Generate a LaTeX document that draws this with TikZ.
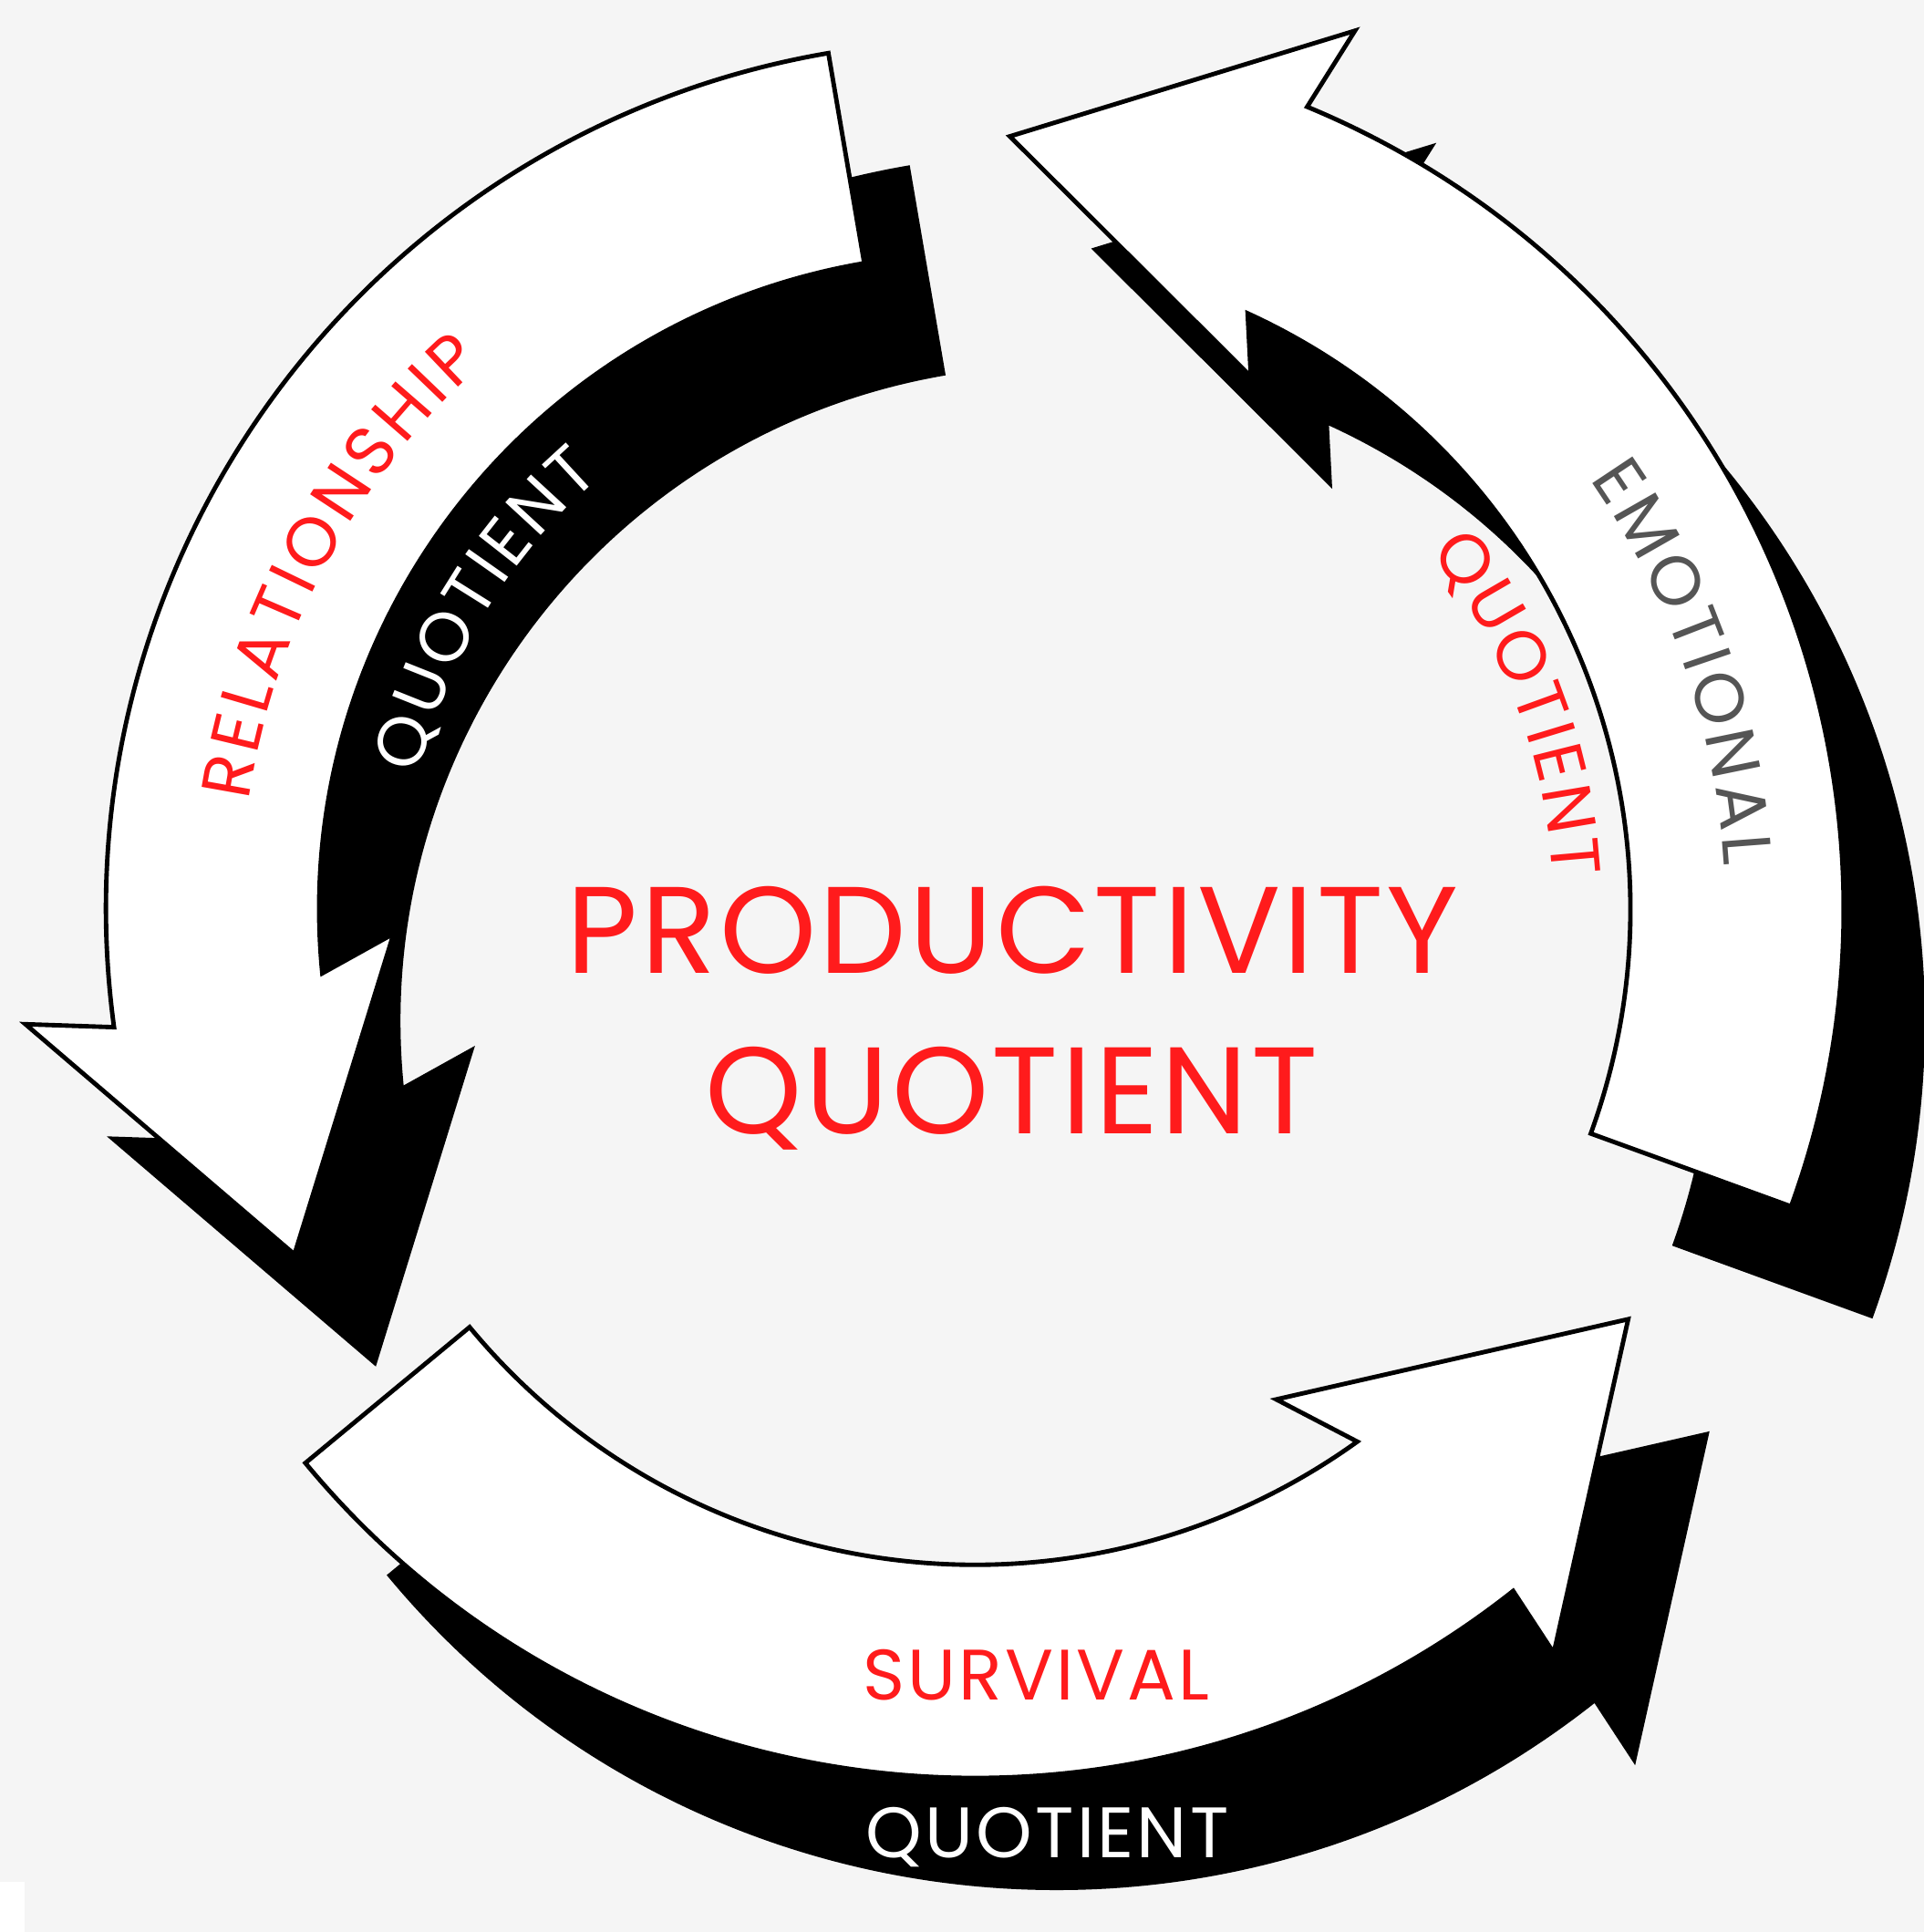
\documentclass[tikz,border=0pt]{standalone}
\usepackage{fontspec}
\setmainfont{Poppins}
\newfontfamily\spacedface{Poppins}[LetterSpace=4]
\newfontfamily\titleface{Poppins}[LetterSpace=2.5]
\usetikzlibrary{decorations.text}

\definecolor{pqred}{HTML}{FF1B1C}
\definecolor{pqgray}{HTML}{555555}
\definecolor{pqback}{HTML}{F5F5F5}

\newcommand{\bigfont}{\titleface\fontsize{50}{50}\selectfont}
\newcommand{\smallfont}{\spacedface\fontsize{29}{29}\selectfont}
\newcommand{\arcfont}{\fontsize{28}{28}\selectfont}

% outlines of the three arrows, round the centre of the ring
\newcommand{\relationshiparrow}{(99.7:705) arc[start angle=99.7, end angle=187.8, radius=705]
  -- (186.9:776) -- (206.9:619) -- (182.4:472) -- (185.6:532)
  arc[start angle=185.6, end angle=99.7, radius=532] -- cycle}
\newcommand{\emotionalarrow}{(-20:705) arc[start angle=-20, end angle=67.5, radius=705]
  -- (66.6:777) -- (87.4:628) -- (62.6:487) -- (65.4:532)
  arc[start angle=65.4, end angle=-20, radius=532] -- cycle}
\newcommand{\survivalarrow}{(219.6:705) arc[start angle=219.6, end angle=308.3, radius=705]
  -- (307.9:765) -- (327.9:626) -- (301.6:467) -- (305.7:532)
  arc[start angle=305.7, end angle=219.6, radius=532] -- cycle}

\tikzset{
  arrowshadow/.style={fill=black},
  arrowbody/.style={fill=white, draw=black, line width=1.8pt, line join=miter},
  ringtext/.style={decorate, decoration={text along path, text align={fit to path}, text color=#1}}
}

\begin{document}
\begin{tikzpicture}[x=0.5pt, y=0.5pt]
\fill[pqback] (0,0) rectangle (1561,-1568);
\useasboundingbox (0,0) rectangle (1561,-1568);
\fill[white] (0,-1527) rectangle (20,-1568);

% shadows
\begin{scope}[shift={(857,-829)}]
\fill[arrowshadow] \relationshiparrow;
\fill[arrowshadow] \emotionalarrow;
\fill[arrowshadow] \survivalarrow;
\end{scope}

% arrows
\begin{scope}[shift={(791,-738)}]
\draw[arrowbody] \relationshiparrow;
\draw[arrowbody] \emotionalarrow;
\draw[arrowbody] \survivalarrow;

\path[ringtext=pqred, decoration={text={|\arcfont|RELATIONSHIP}}]
  (171.5:596) arc[start angle=171.5, end angle=132, radius=596];
\path[ringtext=white, decoration={text={|\arcfont|QUOTIENT}}]
  (166.4:464) arc[start angle=166.4, end angle=130.8, radius=464];
\path[ringtext=pqgray, decoration={text={|\arcfont|EMOTIONAL}}]
  (35:609) arc[start angle=35, end angle=3.3, radius=609];
\path[ringtext=pqred, decoration={text={|\arcfont|QUOTIENT}}]
  (38.2:470) arc[start angle=38.2, end angle=3.2, radius=470];
\end{scope}

\node[anchor=base, inner sep=0pt, text=pqred, font=\bigfont] (prodline) at (822,-790) {PRODUCTIVITY};
\node[anchor=base, inner sep=0pt, text=pqred, font=\bigfont] (quotline) at (821,-920) {QUOTIENT};
\node[anchor=base, inner sep=0pt, text=pqred, font=\smallfont] (survival) at (841,-1380) {SURVIVAL};
\node[anchor=base, inner sep=0pt, text=white, font=\smallfont] (survquot) at (850,-1508) {QUOTIENT};
\end{tikzpicture}
\end{document}
